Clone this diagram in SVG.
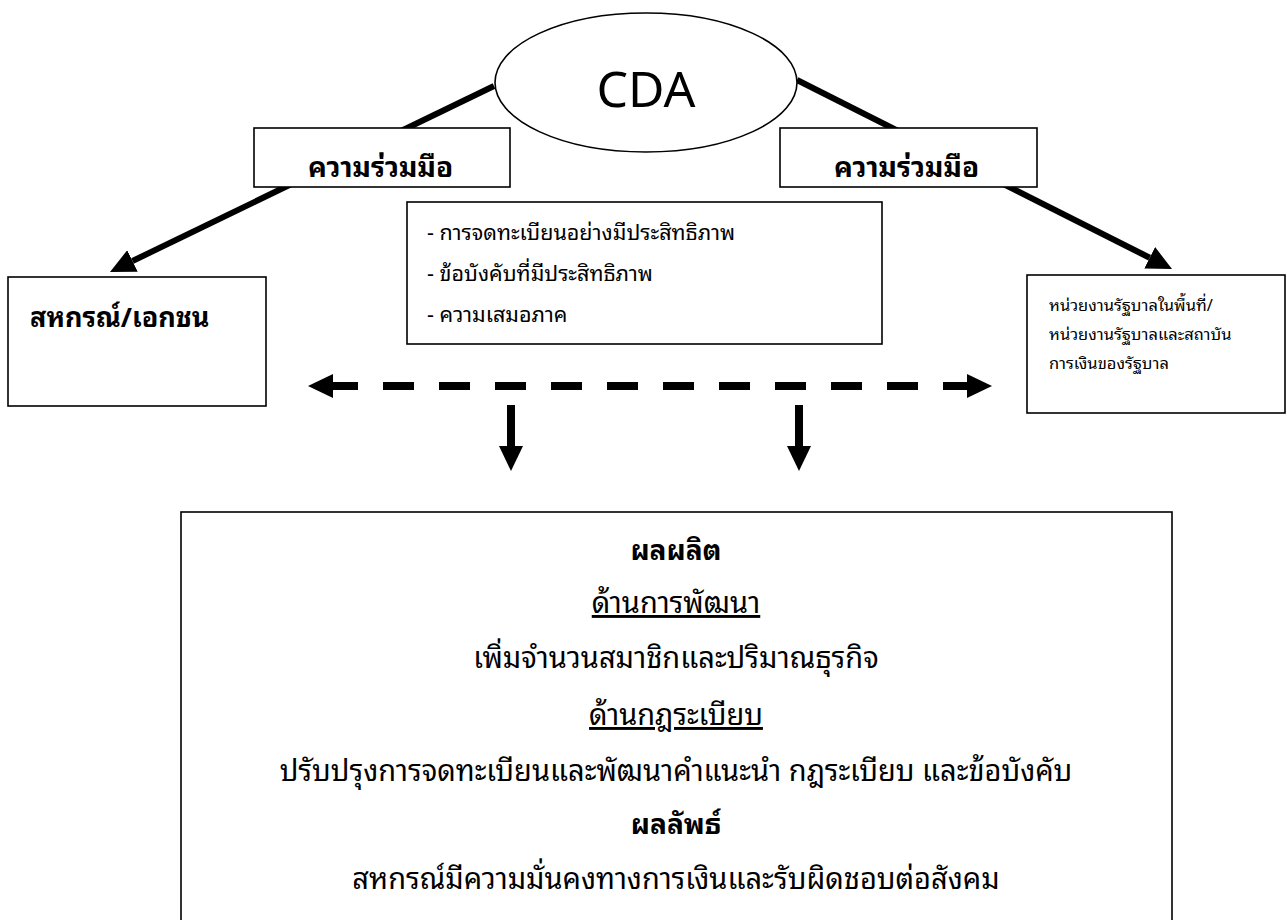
<svg xmlns="http://www.w3.org/2000/svg" width="1287" height="920" viewBox="0 0 1287 920">
<style>
.box{fill:#fff;stroke:#000;stroke-width:1.6}
.t{font-family:"Noto Sans Thai Looped","Noto Sans Thai","Noto Sans",sans-serif;fill:#000}
.b{font-weight:bold}
.c{text-anchor:middle}
.thick{stroke:#000;stroke-width:6;fill:none}
.dash{stroke:#000;stroke-width:8;fill:none}
</style>
<defs>
<marker id="ah" markerUnits="userSpaceOnUse" markerWidth="25" markerHeight="24" refX="0" refY="12" orient="auto">
<path d="M0,0 L25,12 L0,24 z" fill="#000"/>
</marker>
</defs>
<rect width="1287" height="920" fill="#fff"/>
<g id="connectors">
<line class="thick" x1="494" y1="86" x2="132.5" y2="261" marker-end="url(#ah)"/>
<line class="thick" x1="797" y1="80" x2="1149.7" y2="257.8" marker-end="url(#ah)"/>
<line class="dash" x1="383" y1="386" x2="919" y2="386" stroke-dasharray="31 25"/>
<line class="dash" x1="358" y1="386" x2="333" y2="386" marker-end="url(#ah)"/>
<line class="dash" x1="943" y1="386" x2="967" y2="386" marker-end="url(#ah)"/>
<line class="dash" x1="511" y1="405" x2="511" y2="446" marker-end="url(#ah)"/>
<line class="dash" x1="799" y1="405" x2="799" y2="446" marker-end="url(#ah)"/>
</g>
<g id="cda">
<ellipse cx="646" cy="82.5" rx="151" ry="69.5" fill="#fff" stroke="#000" stroke-width="1.6"/>
<text class="t c" x="646" y="107" font-size="50">CDA</text>
</g>
<g id="coop-left">
<rect class="box" x="254" y="128" width="256" height="59"/>
<text class="t b" x="308" y="177" font-size="28">ความร่วมมือ</text>
</g>
<g id="coop-right">
<rect class="box" x="780" y="128" width="257" height="59"/>
<text class="t b" x="834" y="177" font-size="28">ความร่วมมือ</text>
</g>
<g id="private">
<rect class="box" x="8" y="277" width="258" height="129"/>
<text class="t b" x="30" y="327" font-size="27">สหกรณ์/เอกชน</text>
</g>
<g id="principles">
<rect class="box" x="407" y="202" width="475" height="142"/>
<text class="t" x="427" y="240" font-size="21.5">- การจดทะเบียนอย่างมีประสิทธิภาพ</text>
<text class="t" x="427" y="281" font-size="21.5">- ข้อบังคับที่มีประสิทธิภาพ</text>
<text class="t" x="427" y="322" font-size="21.5">- ความเสมอภาค</text>
</g>
<g id="government">
<rect class="box" x="1027" y="275" width="258" height="138"/>
<text class="t" x="1049" y="311" font-size="16.5">หน่วยงานรัฐบาลในพื้นที่/</text>
<text class="t" x="1049" y="340" font-size="16.5">หน่วยงานรัฐบาลและสถาบัน</text>
<text class="t" x="1049" y="369" font-size="16.5">การเงินของรัฐบาล</text>
</g>
<g id="results">
<rect class="box" x="181" y="512" width="991" height="420"/>
<text class="t b c" x="676" y="560" font-size="28">ผลผลิต</text>
<text class="t c" x="676" y="613" font-size="29" text-decoration="underline">ด้านการพัฒนา</text>
<text class="t c" x="676" y="668" font-size="29">เพิ่มจำนวนสมาชิกและปริมาณธุรกิจ</text>
<text class="t c" x="676" y="725" font-size="29" text-decoration="underline">ด้านกฎระเบียบ</text>
<text class="t c" x="676" y="781" font-size="29">ปรับปรุงการจดทะเบียนและพัฒนาคำแนะนำ กฎระเบียบ และข้อบังคับ</text>
<text class="t b c" x="676" y="834" font-size="28">ผลลัพธ์</text>
<text class="t c" x="676" y="889" font-size="29">สหกรณ์มีความมั่นคงทางการเงินและรับผิดชอบต่อสังคม</text>
</g>
</svg>
